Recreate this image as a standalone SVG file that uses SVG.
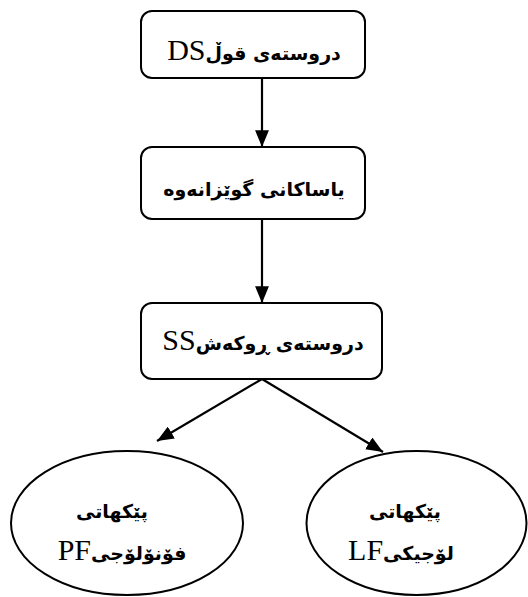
<svg xmlns="http://www.w3.org/2000/svg" width="528" height="597" viewBox="0 0 528 597">
<style>
.box{fill:#fff;stroke:#000;stroke-width:2}
.ar{font-family:"DejaVu Sans",sans-serif;font-weight:bold;font-size:19px;fill:#000}
.lat{font-family:"Liberation Serif",serif;font-weight:normal;font-size:30px}
.edge{stroke:#000;stroke-width:2.2;fill:none}
</style>
<defs>
<marker id="ah" viewBox="0 0 12 10" refX="12" refY="5" markerWidth="7.6" markerHeight="6.3" orient="auto" markerUnits="strokeWidth">
<path d="M0,0 L12,5 L0,10 z" fill="#000"/>
</marker>
</defs>
<rect width="528" height="597" fill="#fff"/>
<g id="connectors">
<line class="edge" x1="262" y1="78" x2="262" y2="147" marker-end="url(#ah)"/>
<line class="edge" x1="262" y1="219" x2="262" y2="303" marker-end="url(#ah)"/>
<line class="edge" x1="262" y1="379" x2="157" y2="441" marker-end="url(#ah)"/>
<line class="edge" x1="262" y1="379" x2="383" y2="452" marker-end="url(#ah)"/>
</g>
<g id="node-ds">
<rect class="box" x="141" y="11" width="224" height="67" rx="11"/>
<text class="ar" x="254" y="60" text-anchor="middle" direction="rtl" unicode-bidi="embed">دروستەی قوڵ<tspan class="lat">DS</tspan></text>
</g>
<g id="node-rules">
<rect class="box" x="141" y="147" width="224" height="72" rx="11"/>
<text class="ar" x="254" y="196" text-anchor="middle" direction="rtl" unicode-bidi="embed">یاساکانی گوێزانەوە</text>
</g>
<g id="node-ss">
<rect class="box" x="141" y="303" width="241" height="76" rx="11"/>
<text class="ar" x="263" y="350" text-anchor="middle" direction="rtl" unicode-bidi="embed">دروستەی ڕوکەش<tspan class="lat">SS</tspan></text>
</g>
<g id="node-pf">
<ellipse class="box" cx="127" cy="523" rx="116" ry="72"/>
<text class="ar" x="112" y="518" text-anchor="middle" direction="rtl" unicode-bidi="embed">پێکهاتی</text>
<text class="ar" x="122" y="560" text-anchor="middle" direction="rtl" unicode-bidi="embed">فۆنۆلۆجی<tspan class="lat">PF</tspan></text>
</g>
<g id="node-lf">
<ellipse class="box" cx="416.5" cy="523" rx="110" ry="72"/>
<text class="ar" x="405" y="518" text-anchor="middle" direction="rtl" unicode-bidi="embed">پێکهاتی</text>
<text class="ar" x="401" y="560" text-anchor="middle" direction="rtl" unicode-bidi="embed">لۆجیکی<tspan class="lat">LF</tspan></text>
</g>
</svg>
